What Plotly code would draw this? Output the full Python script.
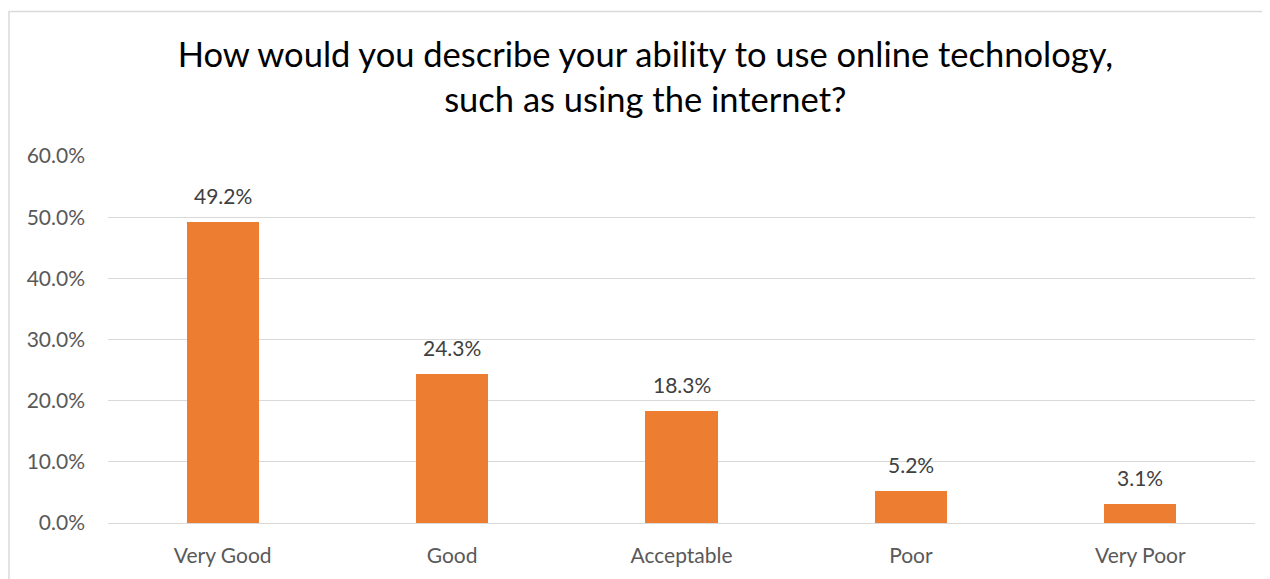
import plotly.graph_objects as go

categories = ["Very Good", "Good", "Acceptable", "Poor", "Very Poor"]
values = [0.492, 0.243, 0.183, 0.052, 0.031]
labels = ["49.2%", "24.3%", "18.3%", "5.2%", "3.1%"]
tick_vals = [0, 0.1, 0.2, 0.3, 0.4, 0.5, 0.6]
tick_text = ["0.0%", "10.0%", "20.0%", "30.0%", "40.0%", "50.0%", "60.0%"]

FONT = "Lato, Open Sans, sans-serif"

fig = go.Figure()
fig.add_trace(go.Bar(
    x=categories, y=values,
    marker=dict(color="#ED7D31", line=dict(width=0)),
    width=0.314,
    hoverinfo="skip",
))

annotations = [
    dict(x=c, y=v, text=t, showarrow=False, xref="x", yref="y",
         yanchor="bottom", yshift=12,
         font=dict(family=FONT, size=21, color="#404040"))
    for c, v, t in zip(categories, values, labels)
]

fig.update_layout(
    width=1262, height=571,
    margin=dict(l=100, r=15, t=148, b=47),
    paper_bgcolor="white", plot_bgcolor="white",
    showlegend=False,
    bargap=0,
    title=dict(
        text="How would you describe your ability to use online technology,<br>such as using the internet?",
        x=0.505, xanchor="center", y=0.896, yanchor="top",
        yref="container",
        font=dict(family=FONT, size=34.5, color="#000000"),
    ),
    xaxis=dict(
        showgrid=False, showline=False, zeroline=False,
        tickfont=dict(family=FONT, size=21, color="#595959"),
        ticks="", ticklabelstandoff=18,
    ),
    yaxis=dict(
        range=[0, 0.6], tickvals=tick_vals, ticktext=tick_text,
        showgrid=True, gridcolor="#D9D9D9", gridwidth=1,
        zeroline=True, zerolinecolor="#D9D9D9", zerolinewidth=1,
        showline=False, ticks="",
        tickfont=dict(family=FONT, size=21, color="#595959"),
        ticklabelstandoff=22,
    ),
    annotations=annotations,
    shapes=[dict(type="rect", xref="paper", yref="paper",
                 x0=-0.0863, x1=1.2, y0=-0.5, y1=1.394,
                 line=dict(color="#D9D9D9", width=1.5), layer="below")],
)

fig.write_html("out.html")
